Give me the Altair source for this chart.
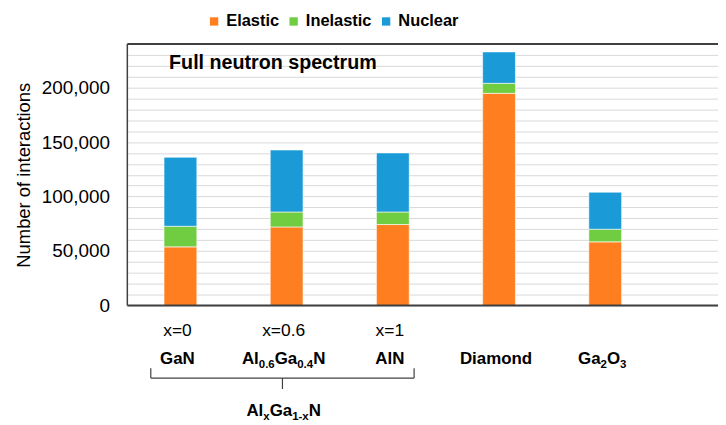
import altair as alt
import pandas as pd

# ---------------- data ----------------
categories = ["GaN", "Al0.6Ga0.4N", "AlN", "Diamond", "Ga2O3"]
series = ["Elastic", "Inelastic", "Nuclear"]
elastic = [53800, 72100, 74300, 194700, 58400]
inelastic = [18900, 13700, 11500, 9200, 11600]
nuclear = [63300, 56900, 54200, 28800, 34000]
colors = ["#FF7F20", "#70CC40", "#1A9AD6"]
composition_labels = ["x=0", "x=0.6", "x=1"]
name_parts = [
    [("GaN", False)],
    [("Al", False), ("0.6", True), ("Ga", False), ("0.4", True), ("N", False)],
    [("AlN", False)],
    [("Diamond", False)],
    [("Ga", False), ("2", True), ("O", False), ("3", True)],
]
group_parts = [("Al", False), ("x", True), ("Ga", False), ("1-x", True), ("N", False)]
group_members = [0, 1, 2]
y_ticks = list(range(0, 240001, 10000))
panel_title = "Full neutron spectrum"

# ---------------- layout ----------------
W, H = 594, 263
STEP = 106.8  # px per category
X_DOMAIN = [-0.5, -0.5 + W / STEP]
FONT = "Liberation Sans"
BOLD_SIZE = 17
SUB_SIZE = 11.5
LABEL_SHIFT = -3.0  # px

xscale = alt.Scale(domain=X_DOMAIN, nice=False, zero=False, padding=0)

rows = []
for i, cat in enumerate(categories):
    for j, (s, vals) in enumerate(zip(series, [elastic, inelastic, nuclear])):
        rows.append({"x": i, "category": cat, "series": s, "value": vals[i], "ord": j})
bars_df = pd.DataFrame(rows)

# Arial/Liberation bold advance widths (per 1000 em)
BW = {"A": 722, "l": 278, "G": 778, "a": 556, "N": 722, ".": 278, "x": 556,
      "-": 333, "O": 778, "D": 722, "i": 278, "m": 889, "o": 611, "n": 611, "d": 611}
for dgt in "0123456789":
    BW[dgt] = 556


def piece_rows(parts, center):
    widths = []
    for t, sub in parts:
        fs = SUB_SIZE if sub else BOLD_SIZE
        widths.append(sum(BW.get(c, 600) for c in t) / 1000 * fs)
    total = sum(widths)
    left = -total / 2 + LABEL_SHIFT
    out = []
    for (t, sub), w in zip(parts, widths):
        out.append({"x": center + left / STEP, "text": t, "sub": sub})
        left += w
    return out


name_rows = []
for i, parts in enumerate(name_parts):
    name_rows += piece_rows(parts, i)
group_center = (group_members[0] + group_members[-1]) / 2
group_rows = piece_rows(group_parts, group_center)
names_df = pd.DataFrame(name_rows)
group_df = pd.DataFrame(group_rows)
comp_df = pd.DataFrame({"x": [i + LABEL_SHIFT / STEP for i in group_members],
                        "text": composition_labels})

br_left = group_members[0] - 29.8 / STEP
br_right = group_members[-1] + 21.4 / STEP
br_df = pd.DataFrame({"x": [br_left], "x2": [br_right]})
br_ends = pd.DataFrame({"x": [br_left, br_right]})
br_mid = pd.DataFrame({"x": [(br_left + br_right) / 2]})

# ---------------- layers ----------------
bars = alt.Chart(bars_df).mark_bar(size=33, orient="vertical", stroke="white", strokeWidth=0.6).encode(
    x=alt.X("x:Q", scale=xscale, axis=None),
    y=alt.Y("value:Q", stack="zero",
            scale=alt.Scale(domain=[0, 240000], nice=False),
            axis=alt.Axis(values=y_ticks, title="Number of interactions",
                          labelExpr="datum.value % 50000 == 0 ? format(datum.value, ',') : ''",
                          labelOverlap=False, ticks=False, domain=False,
                          grid=True, gridColor="#D9D9D9", gridWidth=1,
                          labelFont=FONT, labelFontSize=19, labelColor="#000000",
                          labelPadding=18, titleFont=FONT, titleFontSize=18.5,
                          titleFontWeight="normal", titleColor="#000000", titlePadding=8)),
    color=alt.Color("series:N", scale=alt.Scale(domain=series, range=colors),
                    legend=alt.Legend(title=None, orient="none", direction="horizontal",
                                      legendX=79, legendY=-31, symbolType="square",
                                      symbolSize=70, symbolStrokeWidth=0,
                                      labelFont=FONT, labelFontSize=16.5, labelFontWeight="bold",
                                      labelColor="#000000", columnPadding=6, labelOffset=4,
                                      padding=0)),
    order=alt.Order("ord:Q", sort="ascending"),
)

frame_top = alt.Chart(pd.DataFrame({"a": [0]})).mark_rule(color="#404040", strokeWidth=2).encode(
    x=alt.value(0), x2=alt.value(W), y=alt.value(0))
frame_left = alt.Chart(pd.DataFrame({"a": [0]})).mark_rule(color="#404040", strokeWidth=1.5).encode(
    x=alt.value(0), y=alt.value(0), y2=alt.value(H))
frame_bottom = alt.Chart(pd.DataFrame({"a": [0]})).mark_rule(color="#404040", strokeWidth=2).encode(
    x=alt.value(0), x2=alt.value(W), y=alt.value(H))

title_txt = alt.Chart(pd.DataFrame({"t": [panel_title]})).mark_text(
    align="left", baseline="alphabetic", font=FONT, fontSize=19.8, fontWeight="bold", color="#000000"
).encode(x=alt.value(42), y=alt.value(25.5), text="t:N")

comp_txt = alt.Chart(comp_df).mark_text(
    align="center", baseline="alphabetic", font=FONT, fontSize=17.5, color="#000000"
).encode(x=alt.X("x:Q", scale=xscale, axis=None), y=alt.value(294), text="text:N")

names_main = alt.Chart(names_df).transform_filter("!datum.sub").mark_text(
    align="left", baseline="alphabetic", font=FONT, fontSize=BOLD_SIZE, fontWeight="bold", color="#000000"
).encode(x=alt.X("x:Q", scale=xscale, axis=None), y=alt.value(322), text="text:N")
names_sub = alt.Chart(names_df).transform_filter("datum.sub").mark_text(
    align="left", baseline="alphabetic", font=FONT, fontSize=SUB_SIZE, fontWeight="bold", color="#000000"
).encode(x=alt.X("x:Q", scale=xscale, axis=None), y=alt.value(326), text="text:N")

group_main = alt.Chart(group_df).transform_filter("!datum.sub").mark_text(
    align="left", baseline="alphabetic", font=FONT, fontSize=BOLD_SIZE, fontWeight="bold", color="#000000"
).encode(x=alt.X("x:Q", scale=xscale, axis=None), y=alt.value(374), text="text:N")
group_sub = alt.Chart(group_df).transform_filter("datum.sub").mark_text(
    align="left", baseline="alphabetic", font=FONT, fontSize=SUB_SIZE, fontWeight="bold", color="#000000"
).encode(x=alt.X("x:Q", scale=xscale, axis=None), y=alt.value(378), text="text:N")

br_h = alt.Chart(br_df).mark_rule(color="#404040", strokeWidth=1.2).encode(
    x=alt.X("x:Q", scale=xscale, axis=None), x2="x2:Q", y=alt.value(336))
br_v = alt.Chart(br_ends).mark_rule(color="#404040", strokeWidth=1.2).encode(
    x=alt.X("x:Q", scale=xscale, axis=None), y=alt.value(326), y2=alt.value(336))
br_m = alt.Chart(br_mid).mark_rule(color="#404040", strokeWidth=1.2).encode(
    x=alt.X("x:Q", scale=xscale, axis=None), y=alt.value(336), y2=alt.value(347))

chart = alt.layer(
    bars, frame_top, frame_left, frame_bottom, title_txt, comp_txt,
    names_main, names_sub, group_main, group_sub, br_h, br_v, br_m
).properties(
    width=W, height=H,
    autosize=alt.AutoSizeParams(type="none"),
    padding={"left": 120, "top": 35, "right": 0, "bottom": 117},
    background="white",
).configure_view(stroke=None)

chart.save("out.html", embed_options={"renderer": "svg", "actions": False})
